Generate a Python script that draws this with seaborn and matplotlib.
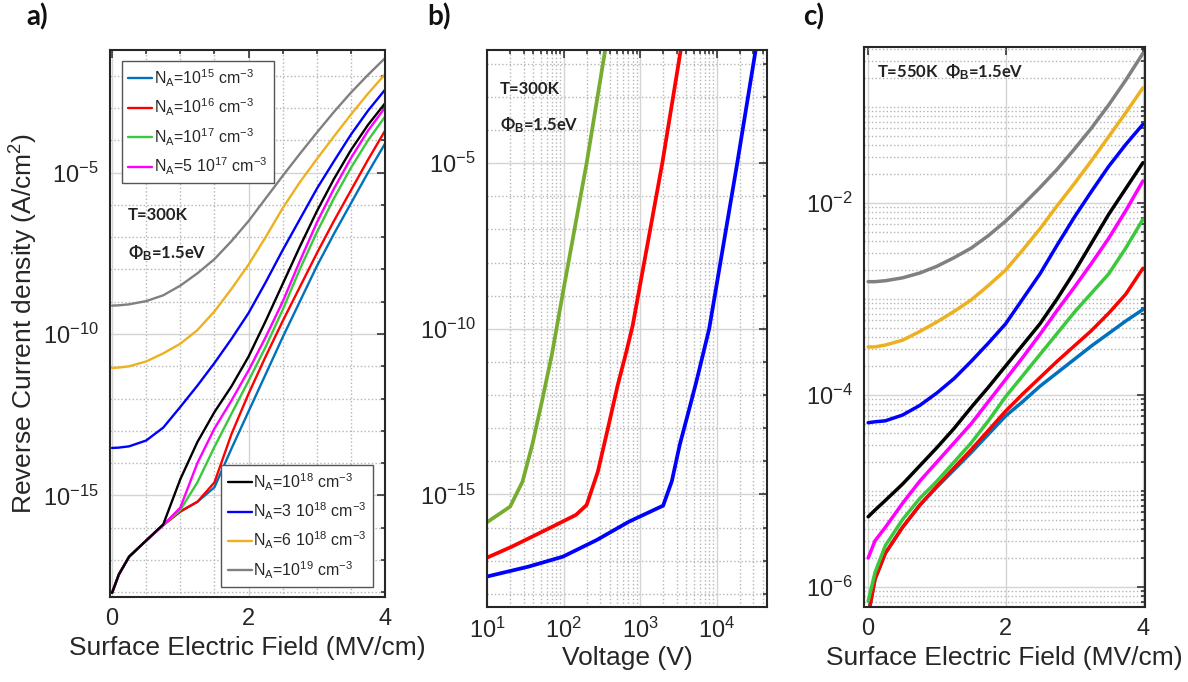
import numpy as np
import pandas as pd
import matplotlib.pyplot as plt
import seaborn as sns
from matplotlib.ticker import FixedLocator, NullFormatter, LogLocator, LogFormatterMathtext

sns.set_theme(style="white")
plt.rcParams["font.family"] = ["Liberation Sans", "DejaVu Sans"]
plt.rcParams["mathtext.fontset"] = "custom"
plt.rcParams["mathtext.rm"] = "Liberation Sans"
plt.rcParams["mathtext.it"] = "Liberation Sans:italic"
plt.rcParams["mathtext.bf"] = "Liberation Sans:bold"

# ---------------- data (log10 of current density) ----------------
doping_labels = [r"N$_\mathrm{A}$=10$^{15}$ cm$^{-3}$", r"N$_\mathrm{A}$=10$^{16}$ cm$^{-3}$",
                 r"N$_\mathrm{A}$=10$^{17}$ cm$^{-3}$", r"N$_\mathrm{A}$=5 10$^{17}$ cm$^{-3}$",
                 r"N$_\mathrm{A}$=10$^{18}$ cm$^{-3}$", r"N$_\mathrm{A}$=3 10$^{18}$ cm$^{-3}$",
                 r"N$_\mathrm{A}$=6 10$^{18}$ cm$^{-3}$", r"N$_\mathrm{A}$=10$^{19}$ cm$^{-3}$"]
doping_colors = ["#0072BD", "#FF0000", "#3CC83C", "#FF00FF",
                 "#000000", "#0000FF", "#EDB120", "#808080"]

field = [0.0, 0.1, 0.25, 0.5, 0.75, 1.0, 1.25, 1.5, 1.75, 2.0,
         2.25, 2.5, 2.75, 3.0, 3.25, 3.5, 3.75, 4.0]

# a) T=300K
a_1e15 = [-18.02, -17.45, -16.9, -16.4, -15.92, -15.5, -15.2, -14.75, -13.55, -12.4, -11.25, -10.1, -9.0, -7.9, -6.9, -5.95, -5.0, -4.1]
a_1e16 = [-18.02, -17.45, -16.9, -16.4, -15.92, -15.5, -15.2, -14.6, -13.1, -11.85, -10.7, -9.6, -8.55, -7.5, -6.5, -5.55, -4.6, -3.7]
a_1e17 = [-18.02, -17.45, -16.9, -16.4, -15.92, -15.45, -14.6, -13.5, -12.47, -11.45, -10.4, -9.25, -8.0, -6.85, -5.8, -4.85, -4.0, -3.26]
a_5e17 = [-18.02, -17.45, -16.9, -16.4, -15.92, -15.38, -14.0, -12.93, -12.06, -11.13, -10.1, -9.0, -7.75, -6.55, -5.5, -4.55, -3.7, -2.98]
a_1e18 = [-18.02, -17.45, -16.9, -16.4, -15.9, -14.5, -13.35, -12.42, -11.62, -10.7, -9.6, -8.45, -7.3, -6.2, -5.2, -4.3, -3.52, -2.85]
a_3e18 = [-13.53, -13.52, -13.48, -13.3, -12.9, -12.26, -11.6, -10.9, -10.15, -9.35, -8.4, -7.4, -6.45, -5.5, -4.65, -3.82, -3.08, -2.43]
a_6e18 = [-11.05, -11.04, -11.0, -10.85, -10.6, -10.3, -9.88, -9.3, -8.6, -7.85, -7.0, -6.1, -5.3, -4.58, -3.88, -3.2, -2.55, -1.95]
a_1e19 = [-9.12, -9.11, -9.08, -8.98, -8.8, -8.5, -8.12, -7.68, -7.12, -6.5, -5.8, -5.1, -4.42, -3.76, -3.12, -2.52, -1.97, -1.45]

# c) T=550K
c_1e15 = [-6.3, -5.92, -5.65, -5.38, -5.15, -4.96, -4.78, -4.6, -4.41, -4.22, -4.07, -3.91, -3.77, -3.63, -3.49, -3.36, -3.23, -3.11]
c_1e16 = [-6.3, -5.92, -5.65, -5.38, -5.15, -4.95, -4.76, -4.57, -4.37, -4.17, -3.99, -3.82, -3.65, -3.49, -3.33, -3.15, -2.95, -2.68]
c_1e17 = [-6.15, -5.85, -5.57, -5.3, -5.08, -4.9, -4.7, -4.5, -4.27, -4.02, -3.8, -3.58, -3.36, -3.14, -2.94, -2.74, -2.47, -2.17]
c_5e17 = [-5.7, -5.52, -5.38, -5.13, -4.9, -4.7, -4.5, -4.3, -4.07, -3.84, -3.61, -3.37, -3.12, -2.88, -2.63, -2.37, -2.08, -1.77]
c_1e18 = [-5.27, -5.2, -5.1, -4.93, -4.74, -4.55, -4.35, -4.13, -3.92, -3.7, -3.48, -3.26, -3.0, -2.72, -2.42, -2.12, -1.85, -1.58]
c_3e18 = [-4.29, -4.28, -4.27, -4.21, -4.11, -3.98, -3.83, -3.65, -3.46, -3.26, -3.0, -2.74, -2.44, -2.15, -1.88, -1.62, -1.39, -1.18]
c_6e18 = [-3.5, -3.5, -3.48, -3.43, -3.34, -3.24, -3.13, -3.01, -2.86, -2.7, -2.49, -2.27, -2.03, -1.8, -1.56, -1.31, -1.06, -0.8]
c_1e19 = [-2.82, -2.82, -2.81, -2.78, -2.73, -2.66, -2.57, -2.47, -2.34, -2.19, -2.02, -1.84, -1.65, -1.44, -1.22, -0.98, -0.72, -0.44]

# b) current vs voltage, three device cases
volt_green = [10, 20, 29, 39, 52, 70, 100, 200, 350]
logj_green = [-15.84, -15.37, -14.62, -13.5, -12.2, -10.8, -8.8, -5.0, -1.58]
volt_red = [10, 21, 59, 145, 200, 280, 380, 510, 660, 800, 1950, 3400]
logj_red = [-16.91, -16.58, -16.07, -15.62, -15.32, -14.32, -13.0, -11.7, -10.7, -9.9, -5.0, -1.58]
volt_blue = [10, 35, 98, 270, 720, 2000, 2600, 3300, 4300, 5500, 8000, 18600, 32400]
logj_blue = [-17.48, -17.18, -16.88, -16.38, -15.82, -15.34, -14.6, -13.5, -12.5, -11.55, -10.0, -5.0, -1.58]
volt_names = ["g", "r", "b"]
volt_colors = ["#77AC30", "#FF0000", "#0000FF"]


def long_table(xs, series, names):
    frames = []
    for x, vals, name in zip(xs, series, names):
        frames.append(pd.DataFrame({"x": x, "J": 10.0 ** np.asarray(vals), "curve": name}))
    return pd.concat(frames, ignore_index=True)


df_a = long_table([field] * 8, [a_1e15, a_1e16, a_1e17, a_5e17, a_1e18, a_3e18, a_6e18, a_1e19], doping_labels)
df_c = long_table([field] * 8, [c_1e15, c_1e16, c_1e17, c_5e17, c_1e18, c_3e18, c_6e18, c_1e19], doping_labels)
df_b = long_table([volt_green, volt_red, volt_blue], [logj_green, logj_red, logj_blue], volt_names)

# ---------------- figure ----------------
fig = plt.figure(figsize=(11.88, 6.82), dpi=100)
ax_a = fig.add_axes([0.0926, 0.1246, 0.2315, 0.802])
ax_b = fig.add_axes([0.410, 0.110, 0.2357, 0.8167])
ax_c = fig.add_axes([0.7273, 0.110, 0.2365, 0.821])

frame = "#262626"
bold_font = ["Lato", "DejaVu Sans"]


def style_axes(ax):
    for s in ax.spines.values():
        s.set_color(frame)
        s.set_linewidth(1.5)
    ax.tick_params(which="both", direction="in", top=True, right=True,
                   color=frame, labelcolor=frame, labelsize=17, width=1.1)
    ax.tick_params(which="major", length=6, pad=8)
    ax.tick_params(which="minor", length=3)
    ax.grid(which="major", color="#d4d4d4", linestyle="-", linewidth=1.0)
    ax.grid(which="minor", color="#b5b5b5", linestyle=":", linewidth=1.0)
    ax.set_axisbelow(True)


# a)
sns.lineplot(data=df_a, x="x", y="J", hue="curve", hue_order=doping_labels,
             palette=doping_colors, linewidth=1.7, estimator=None, legend=False, ax=ax_a)
ax_a.set_yscale("log")
ax_a.set_xlim(-0.03, 4.0)
ax_a.set_ylim(10 ** -18.15, 10 ** -1.2)
ax_a.set_xticks([0, 2, 4])
ax_a.xaxis.set_minor_locator(FixedLocator([0.5, 1.0, 1.5, 2.5, 3.0, 3.5]))
ax_a.yaxis.set_major_locator(FixedLocator([1e-15, 1e-10, 1e-5]))
ax_a.yaxis.set_major_formatter(LogFormatterMathtext())
ax_a.yaxis.set_minor_locator(FixedLocator([10.0 ** k for k in range(-18, -1)]))
ax_a.yaxis.set_minor_formatter(NullFormatter())
style_axes(ax_a)
ax_a.set_xlabel("Surface Electric Field (MV/cm)", fontsize=19, color=frame, labelpad=4)
ax_a.set_ylabel("Reverse Current density (A/cm$^2$)", fontsize=19, color=frame, labelpad=2)

lines = ax_a.get_lines()[:8]
leg_kw = dict(fontsize=11.5, frameon=True, fancybox=False, framealpha=1, edgecolor="#555555",
              handlelength=1.5, handletextpad=0.1, labelspacing=0.5, borderaxespad=0,
              borderpad=0.4)
leg1 = ax_a.legend(lines[:4], doping_labels[:4], loc="upper left",
                   bbox_to_anchor=(0.044, 0.98), **leg_kw)
leg1.get_frame().set_linewidth(1.0)
ax_a.add_artist(leg1)
leg2 = ax_a.legend(lines[4:], doping_labels[4:], loc="lower right",
                   bbox_to_anchor=(0.956, 0.018), **leg_kw)
leg2.get_frame().set_linewidth(1.0)

ax_a.text(0.065, 0.698, "T=300K", transform=ax_a.transAxes, fontsize=12,
          fontweight="bold", family=bold_font, va="center", color="#222222")
ax_a.text(0.065, 0.629, "Φ" + r"$_\mathbf{B}$" + "=1.5eV", transform=ax_a.transAxes,
          fontsize=12, fontweight="bold", family=bold_font, va="center", color="#222222")

# b)
sns.lineplot(data=df_b, x="x", y="J", hue="curve", hue_order=volt_names,
             palette=volt_colors, linewidth=2.7, estimator=None, sort=False,
             legend=False, ax=ax_b)
ax_b.set_xscale("log")
ax_b.set_yscale("log")
ax_b.set_xlim(10, 10 ** 4.66)
ax_b.set_ylim(10 ** -18.4, 10 ** -1.58)
ax_b.xaxis.set_major_locator(FixedLocator([1e1, 1e2, 1e3, 1e4]))
ax_b.xaxis.set_major_formatter(LogFormatterMathtext())
ax_b.xaxis.set_minor_locator(LogLocator(base=10, subs=np.arange(2, 10), numticks=20))
ax_b.xaxis.set_minor_formatter(NullFormatter())
ax_b.yaxis.set_major_locator(FixedLocator([1e-15, 1e-10, 1e-5]))
ax_b.yaxis.set_major_formatter(LogFormatterMathtext())
ax_b.yaxis.set_minor_locator(FixedLocator([10.0 ** k for k in range(-18, -1)]))
ax_b.yaxis.set_minor_formatter(NullFormatter())
style_axes(ax_b)
ax_b.set_xlabel("Voltage (V)", fontsize=19, color=frame, labelpad=2)
ax_b.set_ylabel("")
ax_b.text(0.045, 0.93, "T=300K", transform=ax_b.transAxes, fontsize=12,
          fontweight="bold", family=bold_font, va="center", color="#222222")
ax_b.text(0.045, 0.865, "Φ" + r"$_\mathbf{B}$" + "=1.5eV", transform=ax_b.transAxes,
          fontsize=12, fontweight="bold", family=bold_font, va="center", color="#222222")

# c)
sns.lineplot(data=df_c, x="x", y="J", hue="curve", hue_order=doping_labels,
             palette=doping_colors, linewidth=2.5, estimator=None, legend=False, ax=ax_c)
ax_c.set_yscale("log")
ax_c.set_xlim(-0.06, 4.03)
ax_c.set_ylim(10 ** -6.21, 10 ** -0.375)
ax_c.set_xticks([0, 2, 4])
ax_c.yaxis.set_major_locator(FixedLocator([1e-6, 1e-4, 1e-2]))
ax_c.yaxis.set_major_formatter(LogFormatterMathtext())
ax_c.yaxis.set_minor_locator(LogLocator(base=10, subs=np.arange(1, 10), numticks=100))
ax_c.yaxis.set_minor_formatter(NullFormatter())
style_axes(ax_c)
ax_c.set_xlabel("Surface Electric Field (MV/cm)", fontsize=19, color=frame, labelpad=4)
ax_c.set_ylabel("")
ax_c.text(0.045, 0.955, "T=550K  Φ" + r"$_\mathbf{B}$" + "=1.5eV", transform=ax_c.transAxes,
          fontsize=12, fontweight="bold", family=bold_font, va="center", color="#222222")

# panel letters
for xpos, letter in [(0.022, "a)"), (0.36, "b)"), (0.676, "c)")]:
    fig.text(xpos, 0.975, letter, fontsize=20, fontweight="bold", family=bold_font,
             va="center", ha="left", color="#111111")

fig.savefig("out.png", dpi=100)
